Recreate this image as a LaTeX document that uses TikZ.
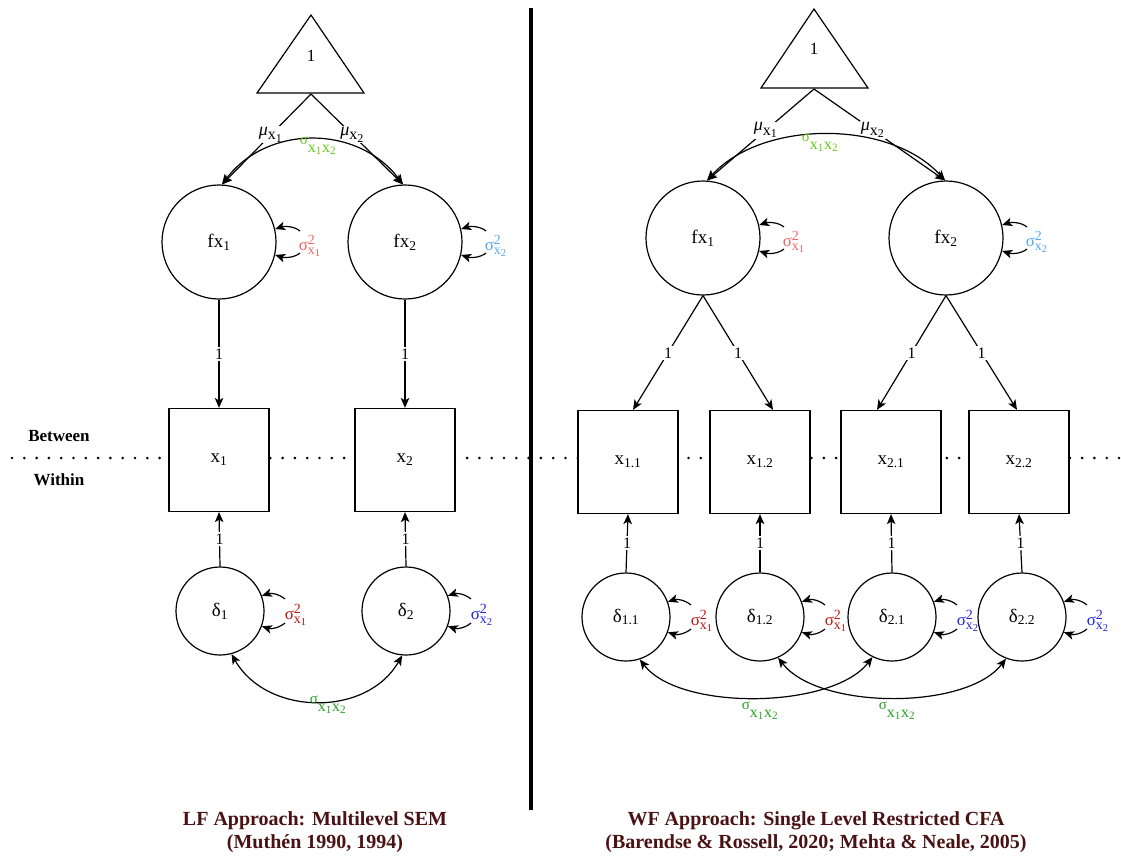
\RequirePackage{fix-cm}
\documentclass[tikz,border=0pt]{standalone}
\usepackage{amsmath}
\usepackage{fontspec}
\setmainfont{Liberation Serif}
\usetikzlibrary{arrows.meta,calc}

% script sizes for the different label sizes
\DeclareMathSizes{19}{19}{13.5}{10}
\DeclareMathSizes{18}{18}{16}{12}
\DeclareMathSizes{17}{17}{14}{10.5}

\definecolor{topred}{HTML}{EE6464}
\definecolor{topblue}{HTML}{55A8EE}
\definecolor{topgreen}{HTML}{66C81A}
\definecolor{botred}{HTML}{BE1414}
\definecolor{botblue}{HTML}{2424DC}
\definecolor{botgreen}{HTML}{24A024}
\definecolor{captioncol}{HTML}{4A1212}

% variance label: sigma^2 with subscript x_k
\newcommand{\varlab}[1]{$\text{σ}^{\text{2}}_{\text{x}_{\text{#1}}}$}
% covariance label: sigma with subscript x_1 x_2
\newcommand{\covlab}{{\fontsize{15}{15}\selectfont σ}\raisebox{-0.48em}{x\textsubscript{1}x\textsubscript{2}}}
% mean label
\newcommand{\meanlab}[1]{$\text{\itshape μ}_{\text{x}_{\text{#1}}}$}

% pair of short variance arrows into the right side of a circle
\newcommand{\vararrows}[6]{%
  \draw[->] ($(#1.center)+(#2,-#3)$) .. controls +(-6,-5) and +(9,-3) .. (#1.#4);
  \draw[->] ($(#1.center)+(#2,#3)$) .. controls +(-6,5) and +(9,3) .. (#1.-#4);
  \node[vlab] at ($(#1.center)+(#5,4)$) {#6};
}

\begin{document}
\begin{tikzpicture}[x=1pt,y=-1pt,line width=1.2pt,
  >={Stealth[length=10pt,width=8.5pt,inset=2.5pt]},
  every node/.style={font=\fontsize{19}{22}\selectfont},
  latent/.style={circle,draw,minimum size=114pt,inner sep=0pt},
  resid/.style={circle,draw,minimum size=88pt,inner sep=0pt},
  obs/.style={rectangle,draw,fill=white,minimum width=100pt,minimum height=103pt,inner sep=0pt},
  onelab/.style={fill=white,inner sep=1.5pt,font=\fontsize{16}{18}\selectfont},
  meanl/.style={pos=0.45,fill=white,inner sep=1pt,font=\fontsize{18}{20}\selectfont},
  vlab/.style={inner sep=0pt,font=\fontsize{17}{19}\selectfont},
  cvlab/.style={inner sep=0pt,font=\fontsize{16}{18}\selectfont},
  level/.style={font=\fontsize{17}{20}\selectfont\bfseries},
  caption/.style={anchor=base,text=captioncol,font=\fontsize{20}{24}\selectfont\bfseries},
  dotline/.style={line width=2.9pt,dash pattern=on 0pt off 12.3pt,line cap=round},
  tri/.style={line width=1.2pt}]

\useasboundingbox (0,0) rectangle (1121,855);

% ---- level separator and panel divider ----
\draw[dotline] (12,458) -- (1121,458);
\node[level] (between) at (59,436) {Between};
\node[level] (within) at (59,480) {Within};
\draw[line width=4.5pt] (531,8) -- (531,810);

% ================= LF approach (left) =================
\draw[tri] (257,93) -- (311,15) -- (364,93) -- cycle;
\node[font=\fontsize{17}{20}\selectfont] (oneL) at (311,56) {1};
\coordinate (meanL) at (311,94);

\node[latent] (fxa) at (219,242) {fx$_{\text{1}}$};
\node[latent] (fxb) at (405,242) {fx$_{\text{2}}$};

\node[obs] (xa) at (219,460) {x$_{\text{1}}$};
\node[obs] (xb) at (405,460) {x$_{\text{2}}$};

\node[resid] (da) at (220,611) {δ$_{\text{1}}$};
\node[resid] (db) at (406,611) {δ$_{\text{2}}$};

% means
\draw[->] (meanL) -- node[meanl] {\meanlab{1}} (fxa.87);
\draw[->] (meanL) -- node[meanl] {\meanlab{2}} (fxb.92);
% between covariance
\draw[<->] (fxa.87) .. controls +(45,-60) and +(-45,-60) .. (fxb.92);
\node[cvlab,text=topgreen] (cbL) at (318,146) {\covlab};

% loadings
\draw[->] (fxa.south) -- node[onelab] {1} (xa.north);
\draw[->] (fxb.south) -- node[onelab] {1} (xb.north);
\draw[->] (da.north) -- node[onelab] {1} (xa.south);
\draw[->] (db.north) -- node[onelab] {1} (xb.south);

% variances
\vararrows{fxa}{81}{11}{13}{91}{\textcolor{topred}{\varlab{1}}}
\vararrows{fxb}{81}{11}{13}{91}{\textcolor{topblue}{\varlab{2}}}
\vararrows{da}{65}{12}{20}{76}{\textcolor{botred}{\varlab{1}}}
\vararrows{db}{65}{12}{20}{76}{\textcolor{botblue}{\varlab{2}}}

% within covariance
\draw[<->] (da.-75) .. controls +(35,62) and +(-35,62) .. (db.-95);
\node[cvlab,text=botgreen] (cwL) at (328,705) {\covlab};

% ================= WF approach (right) =================
\draw[tri] (761,88) -- (814,9) -- (868,88) -- cycle;
\node[font=\fontsize{17}{20}\selectfont] (oneR) at (814,49) {1};
\coordinate (meanR) at (814,89);

\node[latent] (fxc) at (703,238) {fx$_{\text{1}}$};
\node[latent] (fxd) at (946,238) {fx$_{\text{2}}$};

\node[obs] (x11) at (628,462) {x$_{\text{1.1}}$};
\node[obs] (x12) at (760,462) {x$_{\text{1.2}}$};
\node[obs] (x21) at (891,462) {x$_{\text{2.1}}$};
\node[obs] (x22) at (1019,462) {x$_{\text{2.2}}$};

\node[resid] (d11) at (626,617) {δ$_{\text{1.1}}$};
\node[resid] (d12) at (760,617) {δ$_{\text{1.2}}$};
\node[resid] (d21) at (892,617) {δ$_{\text{2.1}}$};
\node[resid] (d22) at (1022,617) {δ$_{\text{2.2}}$};

% means
\draw[->] (meanR) -- node[meanl] {\meanlab{1}} (fxc.86);
\draw[->] (meanR) -- node[meanl] {\meanlab{2}} (fxd.91);
% between covariance
\draw[<->] (fxc.86) .. controls +(55,-61) and +(-55,-61) .. (fxd.91);
\node[cvlab,text=topgreen] (cbR) at (820,143) {\covlab};

% loadings
\draw[->] (fxc.south) -- node[onelab] {1} ($(x11.north)+(5,0)$);
\draw[->] (fxc.south) -- node[onelab] {1} ($(x12.north)+(13,0)$);
\draw[->] (fxd.south) -- node[onelab] {1} ($(x21.north)+(-14,0)$);
\draw[->] (fxd.south) -- node[onelab] {1} ($(x22.north)+(-2,0)$);
\draw[->] (d11.north) -- node[onelab] {1} (x11.south);
\draw[->] (d12.north) -- node[onelab] {1} (x12.south);
\draw[->] (d21.north) -- node[onelab] {1} (x21.south);
\draw[->] (d22.north) -- node[onelab] {1} (x22.south);

% variances
\vararrows{fxc}{81}{11}{13}{91}{\textcolor{topred}{\varlab{1}}}
\vararrows{fxd}{81}{11}{13}{91}{\textcolor{topblue}{\varlab{2}}}
\vararrows{d11}{65}{12}{20}{76}{\textcolor{botred}{\varlab{1}}}
\vararrows{d12}{65}{12}{20}{76}{\textcolor{botred}{\varlab{1}}}
\vararrows{d21}{65}{12}{20}{76}{\textcolor{botblue}{\varlab{2}}}
\vararrows{d22}{65}{12}{20}{76}{\textcolor{botblue}{\varlab{2}}}

% within covariances
\draw[<->] (d11.-72) .. controls +(40,52) and +(-40,52) .. (d21.-116);
\draw[<->] (d12.-66) .. controls +(40,52) and +(-40,52) .. (d22.-111);
\node[cvlab,text=botgreen] (cw1) at (760,711) {\covlab};
\node[cvlab,text=botgreen] (cw2) at (897,711) {\covlab};

% ---- captions ----
\node[caption] (capL1) at (315,825) {LF Approach: Multilevel SEM};
\node[caption] (capL2) at (315,848) {(Muthén 1990, 1994)};
\node[caption] (capR1) at (816,825) {WF Approach: Single Level Restricted CFA};
\node[caption] (capR2) at (816,848) {(Barendse \& Rossell, 2020; Mehta \& Neale, 2005)};

\end{tikzpicture}
\end{document}
